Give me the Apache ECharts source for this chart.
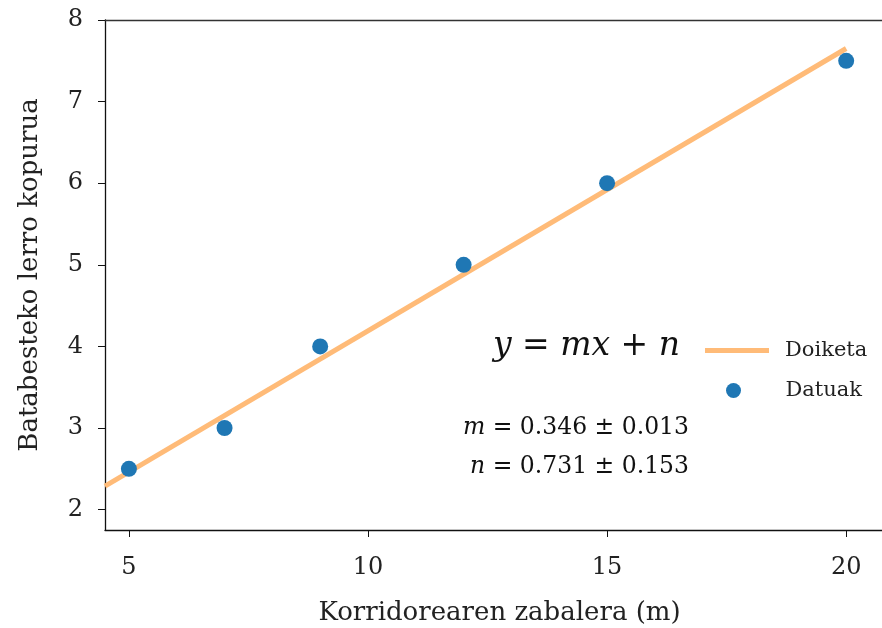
<!DOCTYPE html>
<html lang="eu">
<head>
    <meta charset="UTF-8">
    <title>Korridorearen zabalera</title>
    <script src="https://cdn.jsdelivr.net/npm/echarts@6/dist/echarts.min.js"></script>
    <style>
        html, body { margin: 0; padding: 0; background: #fff; }
    </style>
</head>
<body>
    <div id="main" style="width: 882px;height:628px;"></div>
    <script type="text/javascript">
        // datuak
        var zabalera = [5, 7, 9, 12, 15, 20];
        var lerroak = [2.5, 3, 4, 5, 6, 7.5];
        // doiketa zuzena (muturrak)
        var doiketaX = [4.5, 20];
        var doiketaY = [2.288, 7.651];
        var xTicks = [5, 10, 15, 20];
        var yTicks = [2, 3, 4, 5, 6, 7, 8];

        var serif = '"DejaVu Serif", "Liberation Serif", serif';
        var myChart = echarts.init(document.getElementById('main'));

        var option = {
            animation: false,
            textStyle: { fontFamily: serif },
            grid: {
                left: 105,
                top: 20,
                right: -12,
                bottom: 98,
                outerBoundsMode: 'none',
                containLabel: false,
                show: false
            },
            legend: [{
                orient: 'vertical',
                left: 700,
                top: 335,
                itemWidth: 64,
                itemHeight: 5,
                icon: 'rect',
                textStyle: { fontFamily: serif, fontSize: 21, color: '#222', padding: [0, 0, 0, 11] },
                data: ['Doiketa']
            }, {
                orient: 'vertical',
                left: 721,
                top: 375,
                itemWidth: 64,
                itemHeight: 15,
                icon: 'circle',
                textStyle: { fontFamily: serif, fontSize: 21, color: '#222', padding: [0, 0, 0, 15] },
                data: ['Datuak']
            }],
            xAxis: [{
                type: 'value',
                min: 4.5,
                max: 21,
                name: 'Korridorearen zabalera (m)',
                nameLocation: 'middle',
                nameGap: 70,
                nameTextStyle: { fontFamily: serif, fontSize: 26, color: '#222' },
                splitLine: { show: false },
                axisLine: { show: true, onZero: false, lineStyle: { color: '#111', width: 1.3 } },
                axisTick: { show: true, length: 7, customValues: xTicks, lineStyle: { color: '#111' } },
                axisLabel: { customValues: xTicks, fontFamily: serif, fontSize: 24, color: '#222', margin: 26 }
            }, {
                type: 'value',
                position: 'top',
                min: 4.5,
                max: 21,
                splitLine: { show: false },
                axisLine: { show: true, onZero: false, lineStyle: { color: '#333', width: 1.3 } },
                axisTick: { show: false },
                axisLabel: { show: false }
            }],
            yAxis: {
                type: 'value',
                min: 1.75,
                max: 8,
                name: 'Batabesteko lerro kopurua',
                nameLocation: 'middle',
                nameGap: 62,
                nameTextStyle: { fontFamily: serif, fontSize: 26, color: '#222' },
                splitLine: { show: false },
                axisLine: { show: true, onZero: false, lineStyle: { color: '#111', width: 1.3 } },
                axisTick: { show: true, length: 7, customValues: yTicks, lineStyle: { color: '#111' } },
                axisLabel: { customValues: yTicks, fontFamily: serif, fontSize: 24, color: '#222', margin: 22 }
            },
            graphic: [{
                type: 'text',
                right: 202,
                top: 330,
                style: {
                    text: '{i|y} = {i|mx} + {i|n}',
                    fill: '#111',
                    font: '33px ' + serif,
                    rich: {
                        i: { fontStyle: 'italic', fontFamily: serif, fontSize: 33 }
                    }
                }
            }, {
                type: 'text',
                right: 193,
                top: 416,
                style: {
                    text: '{i|m} = 0.346 ± 0.013',
                    fill: '#111',
                    font: '23.5px ' + serif,
                    rich: { i: { fontStyle: 'italic', fontFamily: serif, fontSize: 23.5 } }
                }
            }, {
                type: 'text',
                right: 193,
                top: 455,
                style: {
                    text: '{i|n} = 0.731 ± 0.153',
                    fill: '#111',
                    font: '23.5px ' + serif,
                    rich: { i: { fontStyle: 'italic', fontFamily: serif, fontSize: 23.5 } }
                }
            }],
            series: [{
                name: 'Doiketa',
                type: 'line',
                symbol: 'none',
                data: doiketaX.map(function (x, i) { return [x, doiketaY[i]]; }),
                lineStyle: { color: '#ffbb78', width: 5 },
                itemStyle: { color: '#ffbb78' },
                z: 2
            }, {
                name: 'Datuak',
                type: 'scatter',
                symbolSize: 16,
                data: zabalera.map(function (x, i) { return [x, lerroak[i]]; }),
                itemStyle: { color: '#1f77b4', opacity: 1 },
                z: 3
            }]
        };

        myChart.setOption(option);
    </script>
</body>
</html>
